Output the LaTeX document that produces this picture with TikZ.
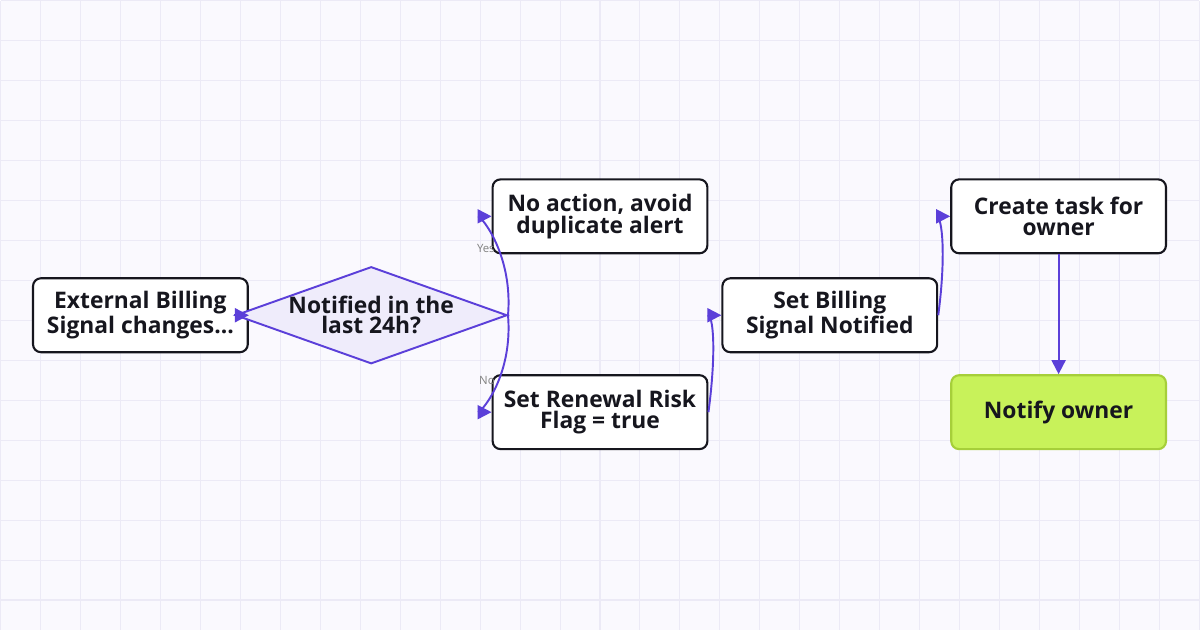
\documentclass[tikz,border=0pt]{standalone}
\usepackage{fontspec}
\setmainfont{Open Sans}
\usetikzlibrary{shapes.geometric,arrows.meta}
\definecolor{flow}{HTML}{5B3FD9}
\definecolor{ink}{HTML}{16161E}
\definecolor{gridc}{HTML}{ECEAF6}
\definecolor{okfill}{HTML}{C8F25A}
\definecolor{okline}{HTML}{A6CF3A}
\tikzset{
  box/.style={rectangle, rounded corners=4.5pt, draw=ink, line width=1.2pt, fill=white,
    minimum width=4.3cm, minimum height=1.48cm, align=center, text=ink,
    font=\fontsize{13}{11.5}\selectfont\bfseries},
  choice/.style={diamond, aspect=2.8, draw=flow, line width=1.1pt, fill=flow!10,
    inner sep=0pt, minimum width=4.52cm, minimum height=1.6cm, align=center, text=ink,
    font=\fontsize{13}{11.5}\selectfont\bfseries},
  link/.style={draw=flow, line width=1.1pt, -{Triangle[length=8pt,width=8pt]}},
  tag/.style={text=gray, font=\fontsize{6.5}{7}\selectfont}
}
\begin{document}
\begin{tikzpicture}[x=0.02cm,y=-0.02cm]
\fill[white!97!flow] (0,0) rectangle (1200,630);
\foreach \gx in {0,40,...,1200} \draw[gridc, line width=0.6pt] (\gx,0) -- (\gx,630);
\foreach \gy in {0,40,...,630} \draw[gridc, line width=0.6pt] (0,\gy) -- (1200,\gy);
\useasboundingbox (0,0) rectangle (1200,630);
\node[box] (signal) at (140,315) {External Billing\\Signal changes...};
\node[choice] (recent) at (371,315) {Notified in the\\last 24h?};
\node[box] (skip) at (600,216) {No action, avoid\\duplicate alert};
\node[box] (risk) at (600,412) {Set Renewal Risk\\Flag = true};
\node[box] (mark) at (830,315) {Set Billing\\Signal Notified};
\node[box] (task) at (1059,216) {Create task for\\owner};
\node[box, draw=okline, fill=okfill] (notify) at (1059,412) {Notify owner};
\path[link] (recent.west) -- (signal.east);
\path[link] (recent.east) .. controls +(5,-60) and +(-10,0) .. node[tag, pos=0.45, left=-1pt] {Yes} (skip.west);
\path[link] (recent.east) .. controls +(5,60) and +(-10,0) .. node[tag, pos=0.45, left=-1pt] {No} (risk.west);
\path[link] (risk.east) .. controls +(8,-60) and +(-8,0) .. (mark.west);
\path[link] (mark.east) .. controls +(8,-60) and +(-8,0) .. (task.west);
\path[link] (task) -- (notify);
\end{tikzpicture}
\end{document}
